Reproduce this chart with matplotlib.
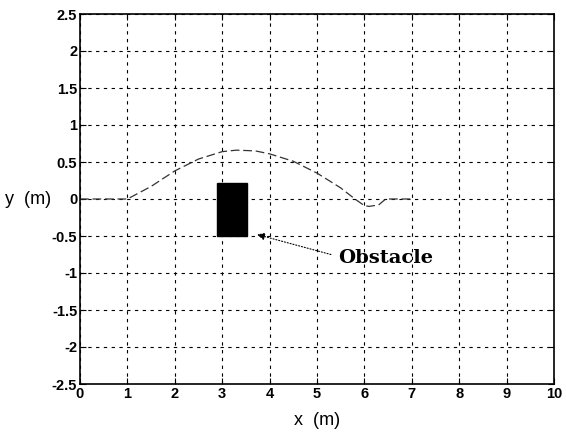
import matplotlib
matplotlib.use("Agg")
import matplotlib.pyplot as plt
from matplotlib.patches import Rectangle

plt.rcParams['font.family'] = ['Liberation Sans', 'DejaVu Sans']

# path data
path_x = [0, 1.0, 1.5, 2.0, 2.5, 3.0, 3.3, 3.7, 4.0, 4.5, 5.0, 5.5, 5.8, 6.0, 6.1, 6.3, 6.45, 7.0]
path_y = [0, 0, 0.17, 0.38, 0.54, 0.64, 0.66, 0.65, 0.61, 0.51, 0.35, 0.15, 0.0, -0.09, -0.10, -0.08, 0, 0]

# obstacle rectangle: x0, x1, y0, y1
obs_x = [2.9, 3.52]
obs_y = [-0.5, 0.22]

x_ticks = list(range(0, 11))
y_ticks = [2.5, 2, 1.5, 1, 0.5, 0, -0.5, -1, -1.5, -2, -2.5]
y_tick_labels = ['2.5', '2', '1.5', '1', '0.5', '0', '-0.5', '-1', '-1.5', '-2', '-2.5']

fig = plt.figure(figsize=(5.66, 4.34), dpi=100)
ax = fig.add_axes([80/566, 50/434, 474/566, 370/434])

ax.plot(path_x, path_y, color='#333333', lw=0.9, linestyle=(0, (7, 3)))
ax.add_patch(Rectangle((obs_x[0], obs_y[0]), obs_x[1]-obs_x[0], obs_y[1]-obs_y[0],
                       facecolor='black', edgecolor='black', zorder=3))

ax.annotate('', xy=(3.68, -0.47), xytext=(5.35, -0.76),
            arrowprops=dict(arrowstyle='-|>', color='black', lw=0.8, linestyle=':',
                            mutation_scale=11))
ax.text(5.45, -0.8, 'Obstacle', family='DejaVu Serif', fontweight='bold', fontsize=14,
        va='center', ha='left')

ax.set_xlim(0, 10)
ax.set_ylim(-2.5, 2.5)
ax.set_xticks(x_ticks)
ax.set_xticklabels([str(v) for v in x_ticks])
ax.set_yticks(y_ticks)
ax.set_yticklabels(y_tick_labels)
ax.grid(True, color='black', linestyle=(0, (3, 4)), lw=0.8)
ax.tick_params(direction='in', top=True, right=True, labelsize=10.5, length=4, pad=2)
for lab in ax.get_xticklabels() + ax.get_yticklabels():
    lab.set_fontweight('bold')
for s in ax.spines.values():
    s.set_linewidth(1.2)

ax.set_xlabel('x  (m)', fontsize=13, labelpad=8)
ax.set_ylabel('y  (m)', fontsize=13, rotation=0, va='center', ha='left')
ax.yaxis.set_label_coords(-75/474, 0.5)

fig.savefig('out.png', dpi=100)
